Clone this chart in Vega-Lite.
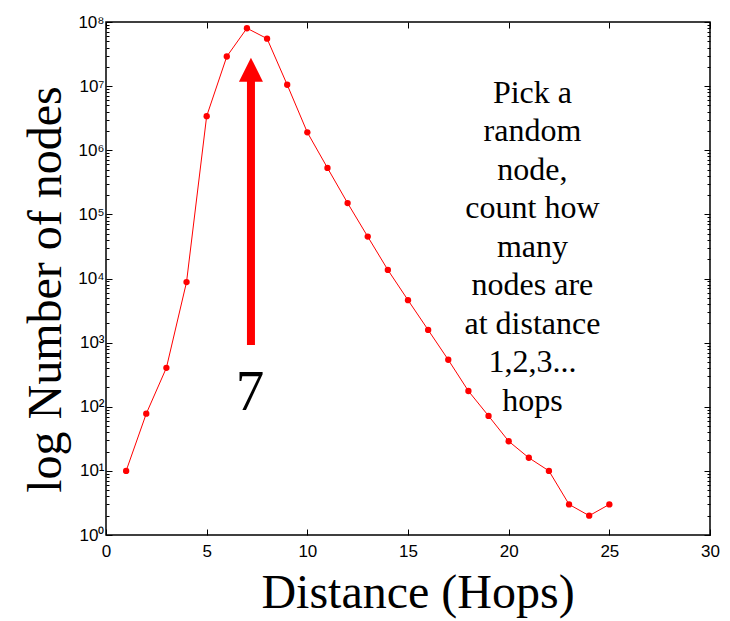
{
  "$schema": "https://vega.github.io/schema/vega-lite/v6.json",
  "width": 604,
  "height": 513,
  "autosize": "none",
  "padding": {"left": 106, "top": 22, "right": 20, "bottom": 86},
  "background": "white",
  "config": {
    "view": {"stroke": "black", "strokeWidth": 1.5},
    "axis": {
      "grid": false,
      "domain": false,
      "tickColor": "black",
      "tickWidth": 1,
      "labelColor": "black",
      "labelFont": "Liberation Sans",
      "labelFontSize": 17,
      "titleFont": "Liberation Serif",
      "titleFontWeight": "normal",
      "titleColor": "black"
    }
  },
  "datasets": {
    "hops": [
      {"d": 1, "n": 10},
      {"d": 2, "n": 78},
      {"d": 3, "n": 405},
      {"d": 4, "n": 8800},
      {"d": 5, "n": 3400000},
      {"d": 6, "n": 29000000},
      {"d": 7, "n": 80000000},
      {"d": 8, "n": 55000000},
      {"d": 9, "n": 10500000},
      {"d": 10, "n": 1900000},
      {"d": 11, "n": 530000},
      {"d": 12, "n": 150000},
      {"d": 13, "n": 45000},
      {"d": 14, "n": 13600},
      {"d": 15, "n": 4600},
      {"d": 16, "n": 1580},
      {"d": 17, "n": 540},
      {"d": 18, "n": 176},
      {"d": 19, "n": 72},
      {"d": 20, "n": 29},
      {"d": 21, "n": 16},
      {"d": 22, "n": 10},
      {"d": 23, "n": 3},
      {"d": 24, "n": 2},
      {"d": 25, "n": 3}
    ],
    "arrow": [{"d": 7.2, "n": 920, "n2": 12000000}],
    "head": [{"d": 7.2, "n": 18000000}],
    "seven": [{"d": 7.15, "n": 89, "t": "7"}],
    "note": [{"d": 21.18, "n": 5500000, "t": "Pick a\nrandom\nnode,\ncount how\nmany\nnodes are\nat distance\n1,2,3...\nhops"}]
  },
  "layer": [
    {
      "data": {"name": "hops"},
      "mark": {"type": "line", "color": "#ff0000", "strokeWidth": 1, "point": {"filled": true, "color": "#ff0000", "size": 40, "opacity": 1}},
      "encoding": {
        "x": {
          "field": "d", "type": "quantitative",
          "scale": {"domain": [0, 30], "nice": false, "zero": false},
          "axis": {
            "orient": "bottom",
            "values": [0, 5, 10, 15, 20, 25, 30],
            "tickSize": -6,
            "labelPadding": 14,
            "labelFlush": false,
            "title": "Distance (Hops)",
            "titleFontSize": 48,
            "titleX": 311.5,
            "titleY": 72,
            "titleAlign": "center",
            "titleBaseline": "alphabetic"
          }
        },
        "y": {
          "field": "n", "type": "quantitative",
          "scale": {"type": "log", "domain": [1, 100000000], "nice": false},
          "axis": {
            "orient": "left",
            "values": [1, 10, 100, 1000, 10000, 100000, 1000000, 10000000, 100000000],
            "labelExpr": "'10' + ['⁰','¹','²','³','⁴','⁵','⁶','⁷','⁸'][round(log(datum.value)/LN10)]",
            "tickSize": -6,
            "labelPadding": 8,
            "labelFlush": false,
            "title": "log Number of nodes",
            "titleFontSize": 48,
            "titleAngle": 270,
            "titleX": -46,
            "titleY": 267,
            "titleAlign": "center",
            "titleBaseline": "alphabetic"
          }
        }
      }
    },
    {
      "data": {"name": "hops"},
      "mark": {"type": "point", "opacity": 0},
      "encoding": {
        "x": {
          "field": "d", "type": "quantitative",
          "scale": {"domain": [0, 30], "nice": false, "zero": false},
          "axis": {"orient": "top", "values": [0, 5, 10, 15, 20, 25, 30], "tickSize": -6, "labels": false, "title": null}
        },
        "y": {
          "field": "n", "type": "quantitative",
          "scale": {"type": "log", "domain": [1, 100000000], "nice": false},
          "axis": {"orient": "right", "values": [1, 10, 100, 1000, 10000, 100000, 1000000, 10000000, 100000000], "tickSize": -6, "labels": false, "title": null}
        }
      }
    },
    {
      "data": {"name": "hops"},
      "mark": {"type": "point", "opacity": 0},
      "encoding": {
        "x": {"field": "d", "type": "quantitative", "scale": {"domain": [0, 30], "nice": false, "zero": false}, "axis": null},
        "y": {
          "field": "n", "type": "quantitative",
          "scale": {"type": "log", "domain": [1, 100000000], "nice": false},
          "axis": {"orient": "left", "tickSize": -3, "labels": false, "title": null,
            "values": [2,3,4,5,6,7,8,9,20,30,40,50,60,70,80,90,200,300,400,500,600,700,800,900,2000,3000,4000,5000,6000,7000,8000,9000,20000,30000,40000,50000,60000,70000,80000,90000,200000,300000,400000,500000,600000,700000,800000,900000,2000000,3000000,4000000,5000000,6000000,7000000,8000000,9000000,20000000,30000000,40000000,50000000,60000000,70000000,80000000,90000000]}
        }
      }
    },
    {
      "data": {"name": "hops"},
      "mark": {"type": "point", "opacity": 0},
      "encoding": {
        "x": {"field": "d", "type": "quantitative", "scale": {"domain": [0, 30], "nice": false, "zero": false}, "axis": null},
        "y": {
          "field": "n", "type": "quantitative",
          "scale": {"type": "log", "domain": [1, 100000000], "nice": false},
          "axis": {"orient": "right", "tickSize": -3, "labels": false, "title": null,
            "values": [2,3,4,5,6,7,8,9,20,30,40,50,60,70,80,90,200,300,400,500,600,700,800,900,2000,3000,4000,5000,6000,7000,8000,9000,20000,30000,40000,50000,60000,70000,80000,90000,200000,300000,400000,500000,600000,700000,800000,900000,2000000,3000000,4000000,5000000,6000000,7000000,8000000,9000000,20000000,30000000,40000000,50000000,60000000,70000000,80000000,90000000]}
        }
      }
    },
    {
      "data": {"name": "arrow"},
      "mark": {"type": "rule", "color": "#ff0000", "strokeWidth": 8, "strokeCap": "butt"},
      "encoding": {
        "x": {"field": "d", "type": "quantitative", "scale": {"domain": [0, 30], "nice": false, "zero": false}, "axis": null},
        "y": {"field": "n", "type": "quantitative", "scale": {"type": "log", "domain": [1, 100000000], "nice": false}, "axis": null},
        "y2": {"field": "n2"}
      }
    },
    {
      "data": {"name": "head"},
      "mark": {"type": "point", "shape": "M0,-1L1,1L-1,1Z", "size": 576, "filled": true, "color": "#ff0000", "opacity": 1, "strokeWidth": 0},
      "encoding": {
        "x": {"field": "d", "type": "quantitative", "scale": {"domain": [0, 30], "nice": false, "zero": false}, "axis": null},
        "y": {"field": "n", "type": "quantitative", "scale": {"type": "log", "domain": [1, 100000000], "nice": false}, "axis": null}
      }
    },
    {
      "data": {"name": "seven"},
      "mark": {"type": "text", "font": "Liberation Serif", "fontSize": 57, "color": "black", "align": "center", "baseline": "alphabetic"},
      "encoding": {
        "x": {"field": "d", "type": "quantitative", "scale": {"domain": [0, 30], "nice": false, "zero": false}, "axis": null},
        "y": {"field": "n", "type": "quantitative", "scale": {"type": "log", "domain": [1, 100000000], "nice": false}, "axis": null},
        "text": {"field": "t", "type": "nominal"}
      }
    },
    {
      "data": {"name": "note"},
      "mark": {"type": "text", "font": "Liberation Serif", "fontSize": 32, "color": "black", "align": "center", "baseline": "alphabetic", "lineBreak": "\n", "lineHeight": 38.5},
      "encoding": {
        "x": {"field": "d", "type": "quantitative", "scale": {"domain": [0, 30], "nice": false, "zero": false}, "axis": null},
        "y": {"field": "n", "type": "quantitative", "scale": {"type": "log", "domain": [1, 100000000], "nice": false}, "axis": null},
        "text": {"field": "t", "type": "nominal"}
      }
    }
  ],
  "resolve": {"axis": {"x": "independent", "y": "independent"}}
}
